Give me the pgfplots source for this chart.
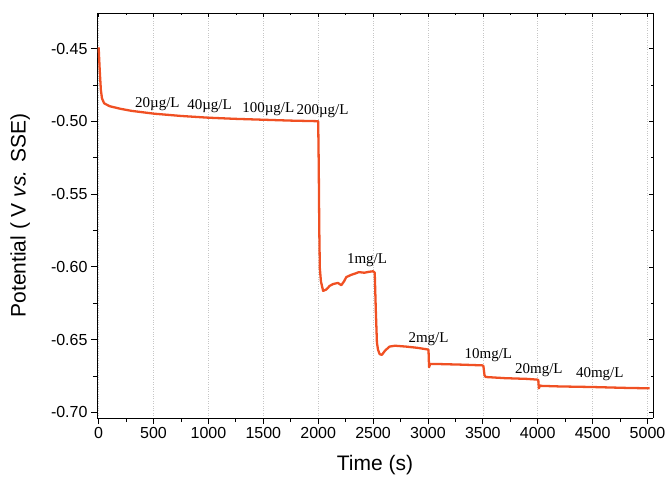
\documentclass[border=0pt]{standalone}
\usepackage{pgfplots}
\pgfplotsset{compat=1.18}
\usetikzlibrary{calc}
\usepackage{fontspec}
\setmainfont{Liberation Sans}
\newfontfamily\serif{Liberation Serif}
\definecolor{curve}{RGB}{240,80,35}

\pgfplotstableread{
t V
0 -0.4490
10 -0.4650
20 -0.4780
30 -0.4840
50 -0.4875
100 -0.4895
200 -0.4913
300 -0.4927
500 -0.4946
750 -0.4962
1000 -0.4974
1250 -0.4982
1500 -0.4988
1750 -0.4994
1995 -0.4998
2000 -0.5000
2005 -0.5300
2010 -0.5750
2015 -0.6010
2025 -0.6100
2045 -0.6165
2075 -0.6155
2105 -0.6130
2136 -0.6118
2180 -0.6110
2210 -0.6126
2235 -0.6100
2256 -0.6070
2300 -0.6055
2340 -0.6045
2370 -0.6036
2420 -0.6040
2460 -0.6034
2500 -0.6030
2515 -0.6040
2525 -0.6300
2535 -0.6520
2545 -0.6570
2560 -0.6600
2580 -0.6605
2610 -0.6575
2650 -0.6548
2700 -0.6542
2800 -0.6548
2900 -0.6556
3000 -0.6568
3005 -0.6572
3010 -0.6690
3020 -0.6668
3100 -0.6668
3300 -0.6672
3495 -0.6677
3505 -0.6682
3515 -0.6745
3525 -0.6757
3700 -0.6765
3900 -0.6770
3995 -0.6775
4005 -0.6778
4010 -0.6835
4020 -0.6815
4030 -0.6818
4200 -0.6822
4500 -0.6826
4800 -0.6832
5020 -0.6835
}\potential

\begin{document}
\begin{tikzpicture}
\begin{axis}[
  name=main,
  scale only axis,
  width=556bp, height=405bp,
  xmin=-15, xmax=5050,
  ymin=-0.7039, ymax=-0.4254,
  axis x line*=bottom, axis y line*=left,
  axis line style={line width=0.9pt, -},
  xtick={0,500,...,5000},
  minor x tick num=1,
  xticklabel style={/pgf/number format/1000 sep={}},
  ytick={-0.70,-0.65,-0.60,-0.55,-0.50,-0.45},
  minor y tick num=1,
  yticklabel style={/pgf/number format/.cd, fixed, fixed zerofill, precision=2},
  /pgf/number format/assume math mode=true,
  scaled y ticks=false,
  tick align=outside,
  major tick length=6bp, minor tick length=4bp,
  tick style={line width=0.9pt, black},
  ticklabel style={font=\fontsize{16bp}{19bp}\selectfont},
  xmajorgrids,
  grid style={gray!45, dotted, line width=0.6pt},
  xlabel={Time (s)},
  ylabel={Potential ( V \textit{vs.} SSE)},
  label style={font=\fontsize{21bp}{25bp}\selectfont},
  xlabel style={at={(axis description cs:0.5,-0.116)}, anchor=center},
  ylabel style={at={(axis description cs:-0.138,0.5)}, anchor=center},
  clip=false,
]
\addplot[curve, line width=2.3pt, line join=round] table[x=t, y=V] {\potential};
\begin{scope}[every node/.style={font=\serif\fontsize{15bp}{18bp}\selectfont, inner sep=0pt}]
\node at (axis cs:535,-0.4878) {20\textmu g/L};
\node at (axis cs:1010,-0.4893) {40\textmu g/L};
\node at (axis cs:1545,-0.4918) {100\textmu g/L};
\node at (axis cs:2040,-0.4928) {200\textmu g/L};
\node at (axis cs:2445,-0.5956) {1mg/L};
\node at (axis cs:3005,-0.6500) {2mg/L};
\node at (axis cs:3550,-0.6610) {10mg/L};
\node at (axis cs:4010,-0.6712) {20mg/L};
\node at (axis cs:4565,-0.6740) {40mg/L};
\end{scope}
\end{axis}
\begin{axis}[
  scale only axis,
  width=556bp, height=405bp,
  xmin=-15, xmax=5050,
  ymin=-0.7039, ymax=-0.4254,
  axis x line*=top, axis y line*=right,
  axis line style={line width=0.9pt, -},
  xtick={0,500,...,5000}, minor x tick num=1,
  ytick={-0.70,-0.65,-0.60,-0.55,-0.50,-0.45}, minor y tick num=1,
  xticklabels={}, yticklabels={},
  tick align=inside,
  major tick length=4bp, minor tick length=2.5bp,
  tick style={line width=0.7pt, black},
]
\end{axis}
\pgfresetboundingbox
\path[use as bounding box] ($(main.south west)+(-97bp,-59bp)$) rectangle ($(main.north east)+(14bp,13bp)$);
\end{tikzpicture}
\end{document}
